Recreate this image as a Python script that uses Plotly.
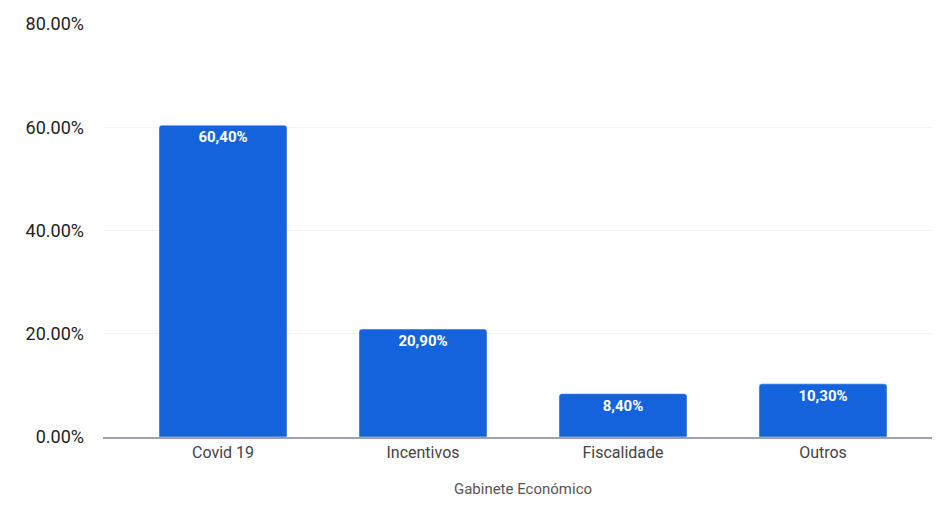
import plotly.graph_objects as go

categories = ["Covid 19", "Incentivos", "Fiscalidade", "Outros"]
values = [60.4, 20.9, 8.4, 10.3]
value_labels = ["60,40%", "20,90%", "8,40%", "10,30%"]
y_ticks = [0, 20, 40, 60, 80]
y_tick_labels = ["0.00%", "20.00%", "40.00%", "60.00%", "80.00%"]
x_title = "Gabinete Económico"

fig = go.Figure(go.Bar(
    x=categories,
    y=values,
    text=value_labels,
    textposition="inside",
    insidetextanchor="end",
    textfont=dict(family="Roboto", size=15, color="white", weight="bold"),
    marker=dict(color="#1463DD", cornerradius=3),
    width=0.64,
))

fig.update_layout(
    width=940, height=506,
    margin=dict(l=95, r=5, t=14, b=77),
    plot_bgcolor="white",
    paper_bgcolor="white",
    showlegend=False,
    font=dict(family="Roboto", color="#333"),
    uniformtext=dict(minsize=8, mode="show"),
)
fig.update_xaxes(
    range=[-0.60, 3.60],
    showline=True, linecolor="#9aa3ad", linewidth=2,
    tickfont=dict(size=16, color="#444"),
    ticks="",
    title=dict(text=x_title, font=dict(size=15, color="#555"), standoff=22),
)
fig.update_yaxes(
    range=[0, 80],
    tickvals=y_ticks,
    ticktext=y_tick_labels,
    tickfont=dict(size=18, color="#222"),
    showgrid=True, gridcolor="#f3f3f3",
    zeroline=False,
    ticklabelstandoff=18,
)

fig.write_html("out.html")
